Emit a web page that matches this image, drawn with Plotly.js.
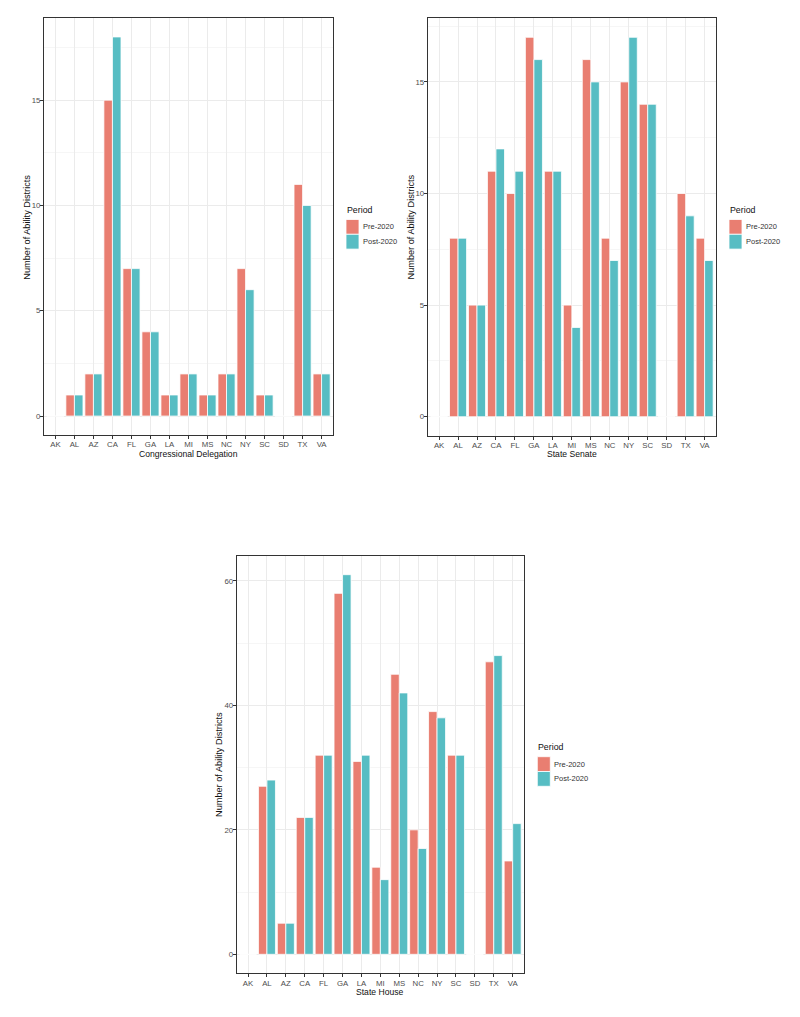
<!DOCTYPE html>
<html>
<head>
<meta charset="utf-8">
<script src="https://cdn.plot.ly/plotly-3.0.1.min.js"></script>
<style>html,body{margin:0;padding:0;background:#fff;}#chart{width:800px;height:1017px;}</style>
</head>
<body>
<div id="chart"></div>
<script>
const states = ["AK","AL","AZ","CA","FL","GA","LA","MI","MS","NC","NY","SC","SD","TX","VA"];
const congressPre  = [0,1,2,15,7,4,1,2,1,2,7,1,0,11,2];
const congressPost = [0,1,2,18,7,4,1,2,1,2,6,1,0,10,2];
const senatePre  = [0,8,5,11,10,17,11,5,16,8,15,14,0,10,8];
const senatePost = [0,8,5,12,11,16,11,4,15,7,17,14,0,9,7];
const housePre  = [0,27,5,22,32,58,31,14,45,20,39,32,0,47,15];
const housePost = [0,28,5,22,32,61,32,12,42,17,38,32,0,48,21];
const periods = ["Pre-2020","Post-2020"];
const legendTitle = "Period";
const panelTitles = ["Congressional Delegation","State Senate","State House"];
const yTitle = "Number of Ability Districts";

const COLORS = ["#E97E71", "#57BDC3"];
const FONT = "Liberation Sans, Arial, sans-serif";
const W=800, H=1017;
const px = v => v/W, py = v => 1 - v/H;

function bar(y, i, xa, ya){
  return {type:"bar", x:states, y:y, name:periods[i], xaxis:xa, yaxis:ya, showlegend:false,
    marker:{color:COLORS[i], line:{color:"#ffffff", width:0.8}}, hoverinfo:"x+y"};
}
const data = [
  bar(congressPre, 0, "x","y"), bar(congressPost, 1, "x","y"),
  bar(senatePre, 0, "x2","y2"), bar(senatePost, 1, "x2","y2"),
  bar(housePre, 0, "x3","y3"), bar(housePost, 1, "x3","y3")
];

function xax(dom, anchor){
  return {domain:dom, anchor:anchor, type:"category", range:[-0.6,14.6], showgrid:true, gridcolor:"#EBEBEB", gridwidth:1,
    ticks:"outside", ticklen:3, tickcolor:"#333333", tickwidth:1, ticklabelstandoff:-1,
    tickfont:{size:7.8, color:"#4D4D4D", family:FONT},
    showline:true, linecolor:"#333333", linewidth:1, mirror:true, zeroline:false, fixedrange:true};
}
function yax(dom, anchor, range, dtick, minor){
  return {domain:dom, anchor:anchor, range:range, dtick:dtick, tick0:0, showgrid:true, gridcolor:"#EBEBEB", gridwidth:1,
    minor:{dtick:minor, tick0:0, showgrid:true, gridcolor:"#F4F4F4", gridwidth:0.8, ticks:""},
    ticks:"outside", ticklen:3, tickcolor:"#333333", tickwidth:1, ticklabelstandoff:-2,
    tickfont:{size:7.8, color:"#4D4D4D", family:FONT},
    showline:true, linecolor:"#333333", linewidth:1, mirror:true, zeroline:false, fixedrange:true};
}

const annotations = [];
const shapes = [];
const xTitlePos = [[188.5, 454], [572, 454], [380.3, 991.5]];
const yTitlePos = [[26.7, 227], [410.5, 227], [218.5, 764.5]];
for (let k=0;k<3;k++){
  annotations.push({xref:"paper", yref:"paper", x:px(xTitlePos[k][0]), y:py(xTitlePos[k][1]),
    xanchor:"center", yanchor:"middle", showarrow:false, text:panelTitles[k],
    font:{size:8.6, color:"#111", family:FONT}});
  annotations.push({xref:"paper", yref:"paper", x:px(yTitlePos[k][0]), y:py(yTitlePos[k][1]),
    xanchor:"center", yanchor:"middle", showarrow:false, text:yTitle, textangle:-90,
    font:{size:9.2, color:"#111", family:FONT}});
}
const legendPos = [[346, 219.5], [729, 219.5], [537.3, 756.7]];
const KW = 13, KH = 14.8;
legendPos.forEach(([lx, ly]) => {
  annotations.push({xref:"paper", yref:"paper", x:px(lx-1), y:py(ly-9.5), xanchor:"left", yanchor:"middle",
    showarrow:false, text:legendTitle, font:{size:8.8, color:"#111", family:FONT}});
  periods.forEach((p, i) => {
    const t = ly + i*KH;
    shapes.push({type:"rect", xref:"paper", yref:"paper", x0:px(lx), x1:px(lx+KW), y0:py(t+KH), y1:py(t),
      fillcolor:COLORS[i], line:{color:"#ffffff", width:0.8}});
    annotations.push({xref:"paper", yref:"paper", x:px(lx+KW+2), y:py(t+KH/2), xanchor:"left", yanchor:"middle",
      showarrow:false, text:p, font:{size:7.5, color:"#333", family:FONT}});
  });
});

const layout = {
  width:W, height:H, margin:{l:0,r:0,t:0,b:0}, paper_bgcolor:"#fff", plot_bgcolor:"#fff",
  barmode:"group", bargap:0.1, bargroupgap:0, font:{family:FONT}, showlegend:false,
  xaxis: xax([px(44), px(333)], "y"),
  yaxis: yax([py(435), py(18)], "x", [-0.9,18.9], 5, 2.5),
  xaxis2: xax([px(427.7), px(716)], "y2"),
  yaxis2: yax([py(435.7), py(18.3)], "x2", [-0.85,17.85], 5, 2.5),
  xaxis3: xax([px(236.7), px(524)], "y3"),
  yaxis3: yax([py(973.3), py(555.7)], "x3", [-3.05,64.05], 20, 10),
  annotations: annotations, shapes: shapes
};
Plotly.newPlot("chart", data, layout, {displayModeBar:false, staticPlot:true});
</script>
</body>
</html>
